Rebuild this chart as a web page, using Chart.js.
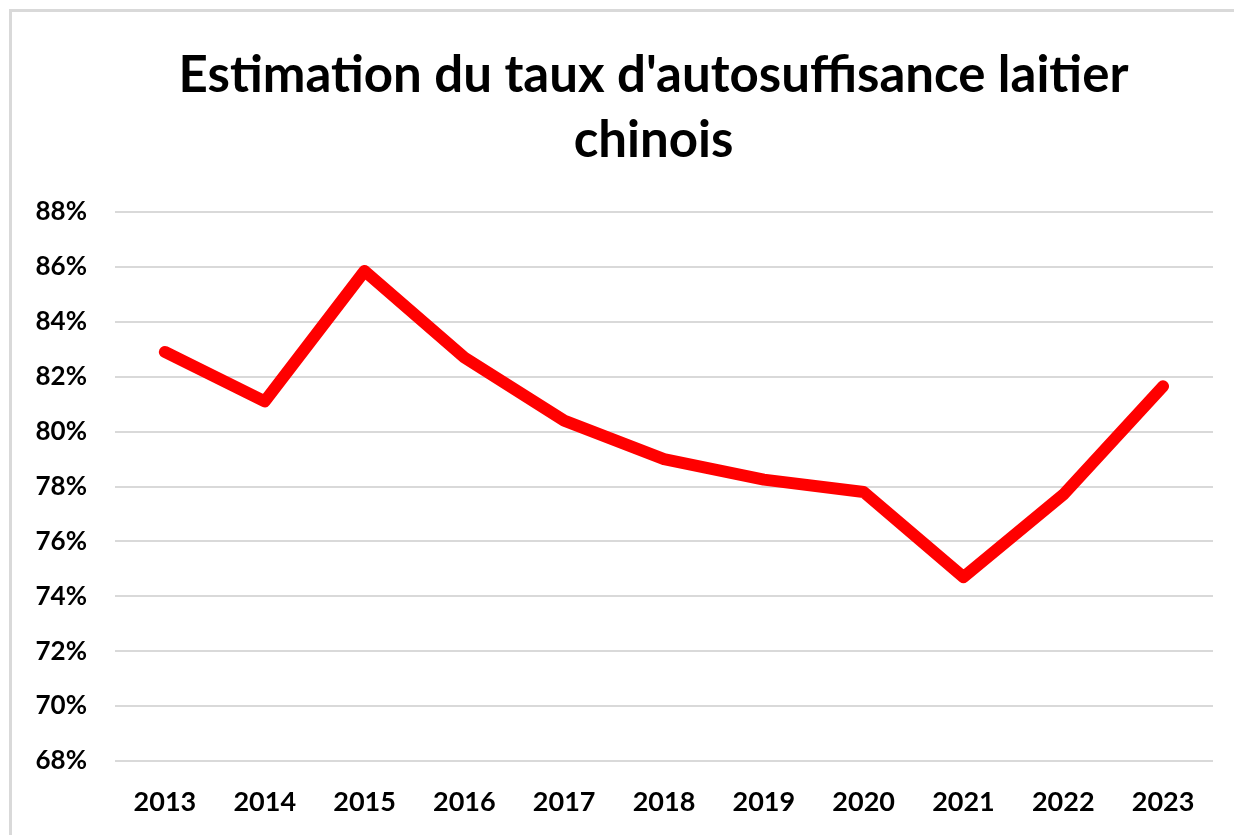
<!DOCTYPE html>
<html>
<head>
<meta charset="utf-8">
<script src="https://cdn.jsdelivr.net/npm/chart.js@4/dist/chart.umd.min.js"></script>
<style>
  html, body { margin: 0; padding: 0; background: #fff; overflow: hidden; }
  #cadre {
    position: absolute; left: 9px; top: 9px; width: 1300px; height: 900px;
    border-left: 3px solid #d9d9d9; border-top: 3px solid #d9d9d9;
  }
  #wrap { position: absolute; left: 0; top: 0; width: 1234px; height: 835px; }
</style>
</head>
<body>
<div id="cadre"></div>
<div id="wrap"><canvas id="graf"></canvas></div>
<script>
const annees = ["2013", "2014", "2015", "2016", "2017", "2018", "2019", "2020", "2021", "2022", "2023"]
const tauxAutosuffisance = [82.9, 81.1, 85.85, 82.7, 80.4, 79.0, 78.25, 77.8, 74.7, 77.7, 81.65] // en %
const titre = ["Estimation du taux d'autosuffisance laitier", "chinois"]
const yMin = 68
const yMax = 88
const yPas = 2

const police = "Lato, 'Open Sans', sans-serif"

// le titre de l'original est centré un peu à droite du canvas
const decaleTitre = {
    id: "decaleTitre",
    afterLayout(chart) {
        if (chart.titleBlock) chart.titleBlock.left += 84
    }
}

new Chart(document.querySelector("#graf"), {
    type: "line",
    data: {
        labels: annees,
        datasets: [{
            data: tauxAutosuffisance,
            borderColor: "#ff0000",
            borderWidth: 12,
            borderCapStyle: "round",
            borderJoinStyle: "round",
            pointRadius: 0,
            tension: 0,
            fill: false
        }]
    },
    options: {
        responsive: true,
        maintainAspectRatio: false,
        animation: false,
        layout: { padding: { left: 10, right: 21, top: 0, bottom: 0 } },
        plugins: {
            legend: { display: false },
            tooltip: { enabled: false },
            title: {
                display: true,
                text: titre,
                color: "#000",
                font: { family: police, size: 51, weight: "bold", lineHeight: 65 / 51 },
                padding: { top: 43, bottom: 39 }
            }
        },
        scales: {
            x: {
                offset: true,
                grid: { display: false, drawTicks: false },
                border: { display: false },
                ticks: {
                    color: "#000",
                    padding: 25,
                    font: { family: police, size: 27, weight: "bold" }
                },
                afterFit: (axe) => { axe.height = 74 }
            },
            y: {
                min: yMin,
                max: yMax,
                grid: { color: "#d9d9d9", lineWidth: 2, drawTicks: false },
                border: { display: false },
                ticks: {
                    stepSize: yPas,
                    color: "#000",
                    padding: 28,
                    font: { family: police, size: 26, weight: "bold" },
                    callback: (v) => v + "%" //SE AGREGA EL SIGNO %
                },
                afterFit: (axe) => { axe.width = 105 }
            }
        }
    },
    plugins: [decaleTitre]
})
</script>
</body>
</html>
